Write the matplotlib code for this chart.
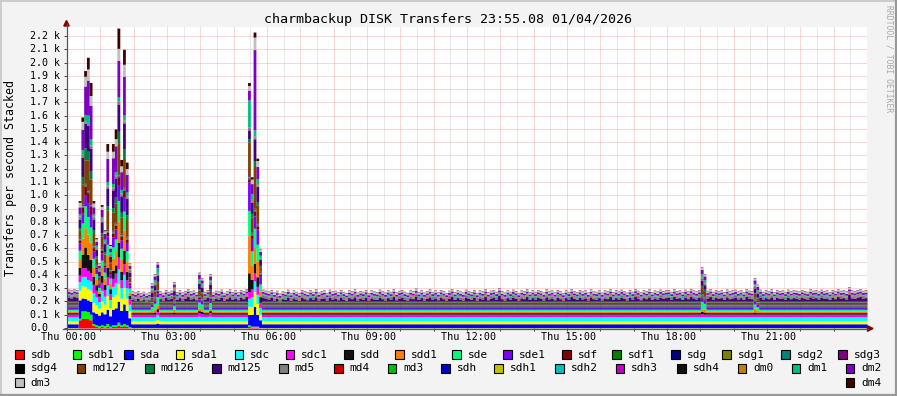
import numpy as np
import matplotlib
matplotlib.use("Agg")
import matplotlib.pyplot as plt
from matplotlib.lines import Line2D
from matplotlib.patches import Rectangle, Polygon
from matplotlib.transforms import blended_transform_factory

plt.rcParams["font.family"] = ["DejaVu Sans Mono", "DejaVu Sans"]

W, H = 897, 396
STEP_MIN = 5
N_STEPS = 288          # one day of 5 minute samples

TITLE = "charmbackup DISK Transfers 23:55.08 01/04/2026"
YLABEL = "Transfers per second Stacked"

names = ["sdb", "sdb1", "sda", "sda1", "sdc", "sdc1", "sdd", "sdd1", "sde", "sde1",
         "sdf", "sdf1", "sdg", "sdg1", "sdg2", "sdg3", "sdg4", "md127", "md126", "md125",
         "md5", "md4", "md3", "sdh", "sdh1", "sdh2", "sdh3", "sdh4", "dm0", "dm1",
         "dm2", "dm3", "dm4"]
colors = ["#FF0000", "#00FF00", "#0000FF", "#FFFF00", "#00FFFF", "#FF00FF", "#111111", "#FF8000",
          "#00FF80", "#8000FF", "#800000", "#008000", "#000080", "#808000", "#008080", "#800080",
          "#000000", "#804000", "#008040", "#400080", "#808080", "#C00000", "#00C000", "#0000C0",
          "#C0C000", "#00C0C0", "#C000C0", "#101010", "#C08000", "#00C080", "#8000C0", "#C0C0C0",
          "#400000"]

# typical rate of each device in the quiet hours (transfers/s)
quiet = [2, 2, 28, 22, 30, 20, 12, 10, 15, 14,
         5, 4, 4, 3, 3, 5, 4, 14, 5, 24,
         3, 3, 3, 3, 2, 2, 2, 2, 3, 5,
         14, 14, 3]

# top of the stack per 5 min step outside the bursts (transfers/s)
envelope = [
    292, 286, 296, 290, 285, 285, 285, 285, 285, 285, 285, 285, 285, 285, 285, 285, 285, 285, 285, 285, 285, 285, 285, 278,
    270, 282, 266, 276, 262, 272, 285, 285, 285, 280, 268, 290, 276, 284, 285, 274, 288, 270, 282, 296, 278, 285, 272, 285,
    285, 276, 290, 285, 270, 284, 278, 292, 268, 280, 294, 274, 286, 272, 290, 280, 296, 285, 285, 285, 285, 285, 292, 284,
    278, 290, 270, 284, 262, 280, 274, 292, 268, 286, 276, 266, 290, 280, 272, 288, 276, 294, 270, 282, 286, 268, 292, 278,
    284, 272, 290, 276, 266, 288, 280, 294, 270, 282, 276, 290, 268, 286, 278, 274, 292, 280, 270, 288, 276, 296, 272, 284,
    290, 276, 268, 286, 280, 300, 274, 288, 270, 282, 294, 276, 286, 272, 290, 280, 268, 284, 296, 274, 288, 278, 270, 292,
    282, 274, 290, 268, 286, 278, 296, 272, 284, 290, 276, 304, 280, 270, 288, 276, 292, 282, 268, 286, 280, 296, 274, 288,
    276, 290, 282, 270, 294, 278, 286, 272, 290, 280, 268, 288, 276, 296, 282, 274, 290, 278, 286, 270, 294, 280, 276, 288,
    270, 286, 280, 296, 274, 288, 278, 292, 282, 270, 290, 276, 298, 284, 272, 288, 280, 294, 274, 286, 278, 292, 282, 288,
    290, 276, 296, 282, 288, 274, 292, 280, 298, 286, 278, 290, 285, 285, 284, 296, 276, 290, 282, 288, 274, 294, 280, 286,
    292, 278, 288, 274, 296, 284, 280, 285, 285, 292, 276, 288, 280, 294, 274, 290, 282, 286, 276, 292, 280, 288, 284, 278,
    290, 282, 276, 294, 284, 288, 278, 292, 282, 286, 274, 290, 280, 296, 284, 288, 278, 312, 286, 282, 290, 296, 284, 288,
]

# extra load on the busy devices during bursts: step -> values for burst_devs
burst_devs = ["sdb", "sdb1", "sda", "sda1", "sdc", "sdc1", "sdd", "sdd1", "sde", "sde1",
              "sdf", "md127", "md126", "md125", "dm1", "dm2", "dm3", "dm4"]
bursts = {
    4:   [60, 10, 110, 50, 35, 30, 45, 50, 55, 40, 15, 40, 15, 40, 10, 40, 20, 10],
    5:   [70, 55, 70, 70, 40, 45, 90, 110, 100, 60, 40, 140, 50, 120, 30, 140, 45, 30],
    6:   [70, 55, 65, 70, 45, 45, 145, 135, 150, 70, 60, 160, 85, 160, 40, 200, 60, 40],
    7:   [70, 50, 60, 60, 40, 50, 110, 140, 120, 90, 70, 210, 60, 170, 50, 250, 70, 85],
    8:   [60, 40, 70, 60, 40, 40, 90, 120, 100, 80, 55, 170, 55, 150, 40, 240, 60, 95],
    9:   [20, 10, 60, 50, 40, 45, 50, 60, 50, 40, 20, 70, 20, 60, 10, 40, 15, 15],
    10:  [10, 10, 60, 40, 30, 30, 30, 30, 30, 20, 10, 30, 10, 25, 5, 15, 5, 5],
    11:  [5, 10, 50, 30, 20, 20, 10, 10, 10, 10, 5, 10, 0, 10, 0, 5, 0, 0],
    12:  [10, 10, 70, 60, 50, 40, 40, 50, 40, 40, 15, 70, 20, 60, 10, 40, 10, 10],
    13:  [5, 10, 60, 50, 30, 30, 30, 35, 30, 25, 10, 45, 10, 40, 5, 30, 5, 5],
    14:  [10, 20, 80, 80, 50, 40, 60, 80, 70, 50, 20, 130, 30, 110, 20, 160, 40, 55],
    15:  [5, 5, 50, 40, 30, 25, 25, 30, 25, 20, 10, 25, 5, 20, 5, 15, 5, 5],
    16:  [10, 10, 90, 70, 50, 40, 50, 80, 70, 60, 25, 120, 30, 110, 20, 180, 35, 55],
    17:  [10, 10, 100, 80, 60, 50, 50, 90, 80, 60, 25, 130, 40, 120, 20, 180, 40, 70],
    18:  [20, 20, 130, 110, 80, 70, 100, 150, 140, 100, 60, 220, 80, 180, 30, 260, 75, 150],
    19:  [10, 10, 80, 70, 50, 40, 50, 80, 70, 50, 20, 110, 30, 100, 20, 120, 30, 45],
    20:  [15, 15, 120, 100, 70, 60, 90, 140, 130, 90, 50, 200, 70, 170, 30, 280, 75, 110],
    21:  [10, 10, 80, 70, 50, 40, 50, 70, 60, 50, 20, 110, 30, 100, 20, 120, 30, 45],
    22:  [0, 5, 40, 30, 20, 20, 15, 15, 15, 10, 5, 10, 0, 10, 0, 10, 0, 0],
    30:  [0, 0, 0, 0, 0, 0, 0, 5, 15, 5, 0, 10, 0, 10, 5, 5, 0, 0],
    31:  [0, 0, 0, 0, 0, 0, 5, 10, 30, 10, 5, 20, 5, 15, 10, 15, 0, 0],
    32:  [0, 0, 5, 5, 5, 5, 10, 15, 50, 15, 5, 30, 5, 20, 30, 15, 0, 0],
    38:  [0, 0, 0, 0, 0, 0, 5, 10, 15, 5, 0, 10, 0, 10, 0, 10, 0, 0],
    47:  [0, 0, 0, 0, 5, 5, 5, 10, 30, 10, 5, 20, 5, 15, 10, 15, 0, 0],
    48:  [0, 0, 0, 0, 0, 5, 5, 10, 20, 10, 0, 15, 5, 10, 5, 10, 0, 0],
    51:  [0, 0, 0, 0, 5, 5, 5, 10, 25, 10, 5, 20, 5, 15, 5, 15, 0, 0],
    65:  [10, 10, 50, 40, 30, 30, 130, 270, 175, 200, 20, 240, 20, 40, 200, 60, 20, 20],
    66:  [5, 5, 60, 40, 40, 40, 60, 100, 90, 80, 20, 100, 20, 60, 40, 60, 20, 15],
    67:  [5, 5, 120, 90, 50, 40, 60, 110, 130, 80, 30, 300, 40, 140, 40, 590, 80, 35],
    68:  [5, 5, 60, 60, 40, 40, 60, 110, 110, 100, 20, 120, 20, 90, 30, 80, 30, 15],
    69:  [0, 0, 30, 20, 20, 20, 30, 30, 40, 50, 5, 20, 5, 20, 5, 15, 5, 0],
    228: [0, 0, 0, 0, 0, 5, 5, 10, 40, 10, 5, 40, 5, 15, 20, 20, 0, 0],
    229: [0, 0, 0, 0, 0, 0, 5, 10, 30, 10, 5, 25, 5, 10, 10, 15, 0, 0],
    247: [0, 0, 0, 0, 0, 0, 5, 20, 15, 10, 0, 15, 0, 10, 5, 15, 0, 0],
    248: [0, 0, 0, 0, 0, 0, 0, 10, 10, 5, 0, 5, 0, 5, 0, 10, 0, 0],
}

x_ticks = [0, 3, 6, 9, 12, 15, 18, 21]
x_tick_labels = ["Thu 00:00", "Thu 03:00", "Thu 06:00", "Thu 09:00",
                 "Thu 12:00", "Thu 15:00", "Thu 18:00", "Thu 21:00"]
y_ticks = list(range(0, 2201, 100))
y_tick_labels = ["0.0"] + [f"{v / 1000:.1f} k" for v in y_ticks[1:]]

# legend layout (box left edge in px, row centre in px)
legend_rows = [(354.5, names[0:16], [15.3, 72.7, 124.3, 175.7, 234.7, 285.7, 344, 395,
                                      452, 503, 562, 612, 671, 722, 781, 838]),
               (368.3, names[16:31], [15, 76.7, 145, 212, 279.3, 334, 387.7, 441,
                                      494.3, 555, 615.7, 677.3, 737.7, 791.7, 845.7]),
               (382.5, names[31:33], [15, 845.7])]

# ---- build the stack
V = np.tile(np.array(quiet, float)[:, None], (1, N_STEPS))
wobble = np.array(envelope, float) - sum(quiet)
wobble[list(bursts)] = 0
V[names.index("md125")] += wobble
rows = [names.index(d) for d in burst_devs]
for step, extra in bursts.items():
    V[rows, step] += extra


def fx(x):
    return x / W


def fy(y):
    return 1 - y / H


fig = plt.figure(figsize=(W / 100, H / 100), dpi=100, facecolor="#F3F3F3")
ax = fig.add_axes([fx(67), fy(328), 800 / W, 301 / H], facecolor="white")

t = np.arange(N_STEPS + 1) * STEP_MIN / 60
bottom = np.zeros(N_STEPS)
for name, col, row in zip(names, colors, V):
    top = bottom + row
    ax.fill_between(t, np.append(bottom, bottom[-1]), np.append(top, top[-1]),
                    step="post", color=col, lw=0, antialiased=False, zorder=2)
    bottom = top

ax.set_xlim(0, 24)
ax.set_ylim(0, 2268)

# grid: red dotted every hour / 0.1 k, grey dotted every half hour
for h in np.arange(0.5, 24, 0.5):
    major = float(h).is_integer()
    ax.axvline(h, color="#F4B0B0" if major else "#D4D4D4", lw=0.72, ls=(0, (1, 1)), zorder=1)
for v in y_ticks[1:]:
    ax.axhline(v, color="#F4B0B0", lw=0.72, ls=(0, (1, 1)), zorder=1)

for s in ax.spines.values():
    s.set_visible(False)
ax.set_xticks(range(0, 25))
ax.set_yticks(y_ticks)
ax.set_xticklabels([])
ax.set_yticklabels([])
ax.tick_params(length=2.2, width=0.7, color="#404040", direction="out")

# tick labels
ty = blended_transform_factory(fig.transFigure, ax.transData)
for v, lab in zip(y_ticks, y_tick_labels):
    ax.text(fx(30), v, lab, transform=ty, ha="left", va="center", fontsize=7.2)
tx = blended_transform_factory(ax.transData, fig.transFigure)
for h, lab in zip(x_ticks, x_tick_labels):
    ax.text(h + 0.04, fy(337), lab, transform=tx, ha="center", va="center", fontsize=7.3)

# axes with arrows
axis_col = "#555555"
fig.add_artist(Line2D([fx(66.5), fx(66.5)], [fy(329), fy(24)], color=axis_col, lw=0.9))
fig.add_artist(Line2D([fx(63), fx(868)], [fy(328.5), fy(328.5)], color=axis_col, lw=0.9))
fig.add_artist(Polygon([(fx(63.8), fy(26)), (fx(69.2), fy(26)), (fx(66.5), fy(20.5))],
                       closed=True, color="#7F0000", transform=fig.transFigure))
fig.add_artist(Polygon([(fx(867.5), fy(325.8)), (fx(867.5), fy(331.2)), (fx(873), fy(328.5))],
                       closed=True, color="#7F0000", transform=fig.transFigure))

# titles
fig.text(fx(448), fy(19.5), TITLE, ha="center", va="center", fontsize=9.6)
fig.text(fx(10.5), fy(178), YLABEL, rotation=90, ha="center", va="center", fontsize=8.4)
fig.text(fx(888.5), fy(5), "RRDTOOL / TOBI OETIKER", rotation=270, ha="center", va="top",
         fontsize=5.8, color="#A8A8A8")

# legend
colour_of = dict(zip(names, colors))
for yc, labels, xs in legend_rows:
    for lab, x0 in zip(labels, xs):
        fig.add_artist(Rectangle((fx(x0), fy(yc + 4.2)), 8.5 / W, 8.5 / H, transform=fig.transFigure,
                                 facecolor=colour_of[lab], edgecolor="black", lw=0.8))
        fig.text(fx(x0 + 15.4), fy(yc), lab, ha="left", va="center", fontsize=8)

# rrdtool style frame
fig.add_artist(Line2D([0, 1], [fy(0.5), fy(0.5)], color="#CBCBCB", lw=1.4))
fig.add_artist(Line2D([fx(0.5), fx(0.5)], [0, 1], color="#CBCBCB", lw=1.4))
fig.add_artist(Line2D([0, 1], [fy(395), fy(395)], color="#999999", lw=1.6))
fig.add_artist(Line2D([fx(896), fx(896)], [0, 1], color="#999999", lw=1.6))

fig.savefig("out.png", dpi=100, facecolor=fig.get_facecolor())
